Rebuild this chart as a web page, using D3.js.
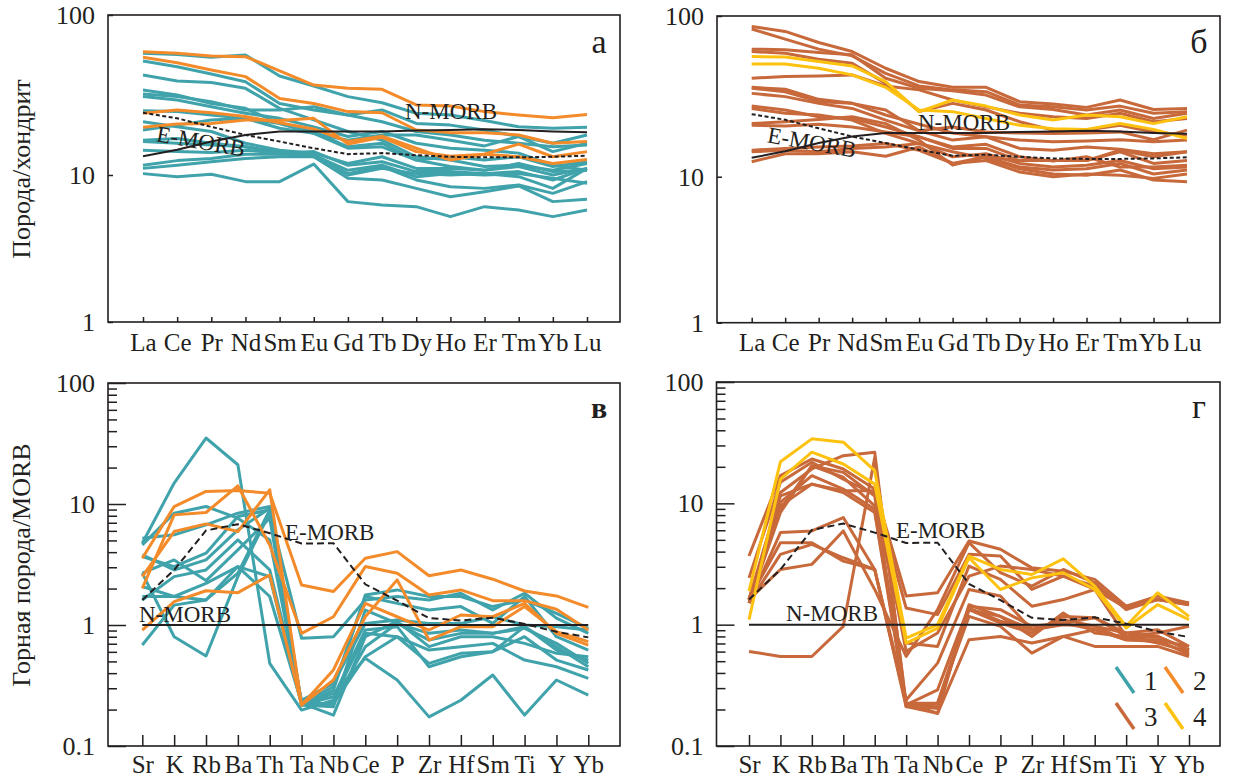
<!DOCTYPE html>
<html>
<head>
<meta charset="utf-8">
<script src="https://cdn.jsdelivr.net/npm/d3@7"></script>
<style>
body { margin: 0; background: #fff; }
svg text { font-family: 'Liberation Serif', 'Times New Roman', serif; }
</style>
</head>
<body>
<svg id="chart" width="1239" height="778"></svg>
<script>
// elements on the x axes
const reeElems = ['La', 'Ce', 'Pr', 'Nd', 'Sm', 'Eu', 'Gd', 'Tb', 'Dy', 'Ho', 'Er', 'Tm', 'Yb', 'Lu'];
const spiderElems = ['Sr', 'K', 'Rb', 'Ba', 'Th', 'Ta', 'Nb', 'Ce', 'P', 'Zr', 'Hf', 'Sm', 'Ti', 'Y', 'Yb'];

// reference curves
const reeNMorb = [13.1, 14.4, 16.2, 17.8, 18.7, 18.7, 18.7, 18.7, 19.0, 19.1, 19.3, 19.1, 18.7, 18.5];
const reeEMorb = [24.5, 22.6, 20.0, 17.8, 16.2, 14.7, 13.5, 13.7, 13.3, 13.0, 12.9, 12.9, 13.0, 13.2];
const spiderNMorb = [1, 1, 1, 1, 1, 1, 1, 1, 1, 1, 1, 1, 1, 1, 1];
const spiderEMorb = [1.61, 2.85, 6.04, 6.81, 5.74, 4.71, 4.74, 2.17, 1.59, 1.14, 1.09, 1.15, 1.02, 0.88, 0.79];

// panel а: group 1 (teal) and group 2 (orange), rock / chondrite
const reeGroup1 = [
  [57.6, 56.7, 54.4, 56.2, 41.6, 36.0, 30.9, 28.3, 24.3, 23.7, 21.9, 20.0, 19.6, 19.9],
  [51.6, 47.5, 42.8, 38.3, 28.0, 25.5, 23.7, 21.5, 18.7, 17.8, 16.5, 15.8, 15.0, 15.4],
  [42.2, 38.7, 37.8, 34.8, 26.1, 22.1, 18.7, 16.5, 13.0, 12.4, 11.3, 11.5, 10.7, 11.8],
  [34.0, 31.6, 28.0, 26.1, 21.0, 18.7, 15.0, 15.8, 12.4, 11.3, 10.7, 11.3, 10.0, 11.0],
  [32.1, 30.9, 28.7, 25.5, 25.5, 26.7, 23.7, 25.5, 21.0, 20.5, 19.1, 17.4, 15.8, 17.8],
  [30.9, 29.4, 26.7, 24.3, 22.6, 20.0, 17.4, 18.7, 15.8, 14.7, 14.3, 13.7, 11.5, 10.7],
  [25.2, 24.9, 23.7, 22.6, 19.6, 18.2, 16.5, 17.8, 17.8, 16.5, 15.2, 17.4, 14.0, 15.8],
  [21.5, 20.0, 18.7, 15.8, 14.3, 13.7, 11.8, 13.0, 11.0, 11.0, 10.7, 11.8, 10.5, 10.7],
  [19.1, 20.5, 22.1, 22.6, 21.0, 18.2, 14.7, 15.0, 12.4, 13.0, 12.4, 13.0, 11.3, 12.1],
  [16.2, 15.8, 15.4, 15.0, 13.7, 14.0, 11.5, 12.1, 10.5, 10.5, 10.2, 10.5, 9.25, 11.0],
  [11.5, 12.3, 12.7, 13.5, 13.5, 13.3, 10.7, 11.5, 9.74, 10.2, 10.0, 10.2, 9.49, 8.78],
  [10.2, 9.74, 10.1, 9.01, 9.01, 11.7, 6.59, 6.26, 6.09, 5.21, 6.09, 5.78, 5.21, 5.78],
  [14.3, 14.0, 13.8, 14.3, 13.7, 13.0, 10.2, 11.3, 9.25, 8.33, 8.11, 8.55, 7.50, 9.01],
  [11.0, 11.5, 12.1, 12.7, 13.0, 13.0, 9.49, 9.25, 8.11, 7.12, 7.70, 8.42, 6.59, 6.83],
  [16.5, 16.9, 15.8, 15.0, 14.0, 13.3, 10.0, 11.0, 10.2, 10.0, 10.2, 9.74, 8.11, 11.0]
];
const reeGroup2 = [
  [59.0, 57.6, 55.5, 54.9, 44.7, 36.5, 34.8, 34.3, 27.4, 27.0, 24.9, 23.7, 22.8, 23.9],
  [54.4, 50.3, 45.3, 41.2, 30.1, 28.0, 24.9, 24.5, 19.1, 18.4, 18.4, 17.8, 15.8, 16.2],
  [24.3, 25.5, 24.5, 23.2, 21.2, 19.4, 16.2, 17.5, 14.7, 12.4, 13.5, 15.6, 13.0, 14.0],
  [19.9, 20.8, 21.0, 22.1, 21.9, 22.6, 15.6, 17.2, 14.0, 13.1, 13.5, 13.0, 11.8, 12.5]
];

// panel б: group 3 (brown) and group 4 (yellow)
const reeGroup3 = [
  [86.1, 80.2, 68.4, 60.1, 47.3, 39.1, 36.0, 36.0, 29.3, 28.3, 27.0, 30.0, 26.2, 26.6],
  [83.0, 71.8, 62.2, 56.5, 44.0, 36.7, 34.7, 33.8, 27.9, 27.2, 26.0, 27.5, 24.8, 25.4],
  [62.2, 61.7, 59.3, 57.3, 41.0, 35.5, 34.3, 32.2, 27.2, 26.2, 24.2, 26.0, 23.0, 24.8],
  [60.1, 58.7, 53.8, 50.8, 38.1, 25.4, 28.6, 26.0, 22.0, 19.5, 19.5, 20.9, 19.0, 18.1],
  [41.0, 42.0, 42.4, 43.0, 36.7, 34.7, 30.0, 27.2, 24.8, 23.6, 23.0, 24.8, 22.0, 23.0],
  [36.0, 35.0, 30.3, 28.6, 24.2, 21.2, 18.7, 17.7, 16.9, 16.5, 16.7, 17.0, 16.5, 16.9],
  [33.0, 31.5, 28.6, 26.6, 22.5, 19.3, 16.9, 17.7, 15.0, 14.6, 15.3, 14.8, 13.9, 14.3],
  [27.5, 26.0, 23.6, 23.0, 20.4, 17.7, 15.0, 15.0, 12.6, 12.6, 12.6, 14.3, 12.1, 12.6],
  [26.6, 24.8, 24.2, 22.5, 18.6, 16.1, 13.3, 13.9, 12.1, 11.5, 11.8, 12.6, 11.2, 11.5],
  [21.4, 22.0, 22.7, 23.6, 21.4, 16.9, 11.8, 13.3, 11.5, 11.0, 11.2, 12.1, 10.4, 11.0],
  [14.3, 14.6, 14.3, 15.0, 15.3, 16.1, 14.3, 13.0, 11.2, 10.4, 10.2, 11.0, 9.5, 9.24],
  [12.4, 13.9, 13.9, 14.3, 13.4, 15.3, 12.1, 12.6, 10.7, 10.0, 10.4, 10.2, 9.74, 10.4],
  [20.9, 20.7, 21.2, 20.4, 19.0, 17.7, 15.3, 15.9, 13.3, 12.5, 13.3, 11.5, 11.5, 11.8],
  [35.5, 33.8, 29.3, 28.6, 26.0, 19.3, 20.4, 19.0, 18.7, 18.6, 18.7, 19.0, 17.0, 19.5],
  [14.6, 15.0, 15.3, 15.5, 16.1, 14.6, 12.1, 13.3, 12.6, 12.6, 12.6, 14.6, 13.3, 14.3]
];
const reeGroup4 = [
  [55.9, 55.5, 52.1, 48.9, 39.1, 25.4, 30.0, 27.5, 24.2, 22.5, 24.2, 23.6, 21.4, 23.6],
  [50.3, 50.3, 47.3, 43.0, 36.0, 26.0, 25.4, 23.0, 20.9, 19.9, 19.7, 21.4, 19.7, 17.3]
];

// panel в: rock / MORB, groups 1 and 2
const spiderGroup1 = [
  [4.74, 14.9, 35.1, 21.1, 0.482, 0.198, 0.239, 0.853, 0.800, 0.621, 0.662, 0.705, 0.513, 0.452, 0.362],
  [5.21, 5.56, 6.73, 8.40, 9.53, 0.218, 0.290, 1.77, 1.95, 1.72, 1.72, 1.42, 1.61, 1.25, 0.938],
  [4.59, 8.40, 9.53, 7.63, 5.05, 0.225, 0.180, 0.800, 1.07, 0.662, 0.800, 0.800, 0.705, 0.583, 0.547],
  [3.80, 2.85, 3.45, 6.11, 9.24, 0.218, 0.255, 0.909, 0.969, 0.452, 0.547, 0.602, 0.969, 0.621, 0.513],
  [2.68, 3.45, 2.33, 4.18, 7.63, 0.218, 0.211, 1.33, 1.03, 0.853, 0.909, 0.853, 0.938, 0.705, 0.482],
  [0.683, 1.46, 1.61, 2.68, 8.95, 0.218, 0.225, 0.547, 0.800, 0.482, 0.583, 0.602, 0.800, 0.513, 0.425],
  [2.68, 0.800, 0.554, 2.51, 8.40, 0.776, 0.800, 1.61, 1.72, 1.61, 1.83, 1.33, 1.83, 1.14, 0.853],
  [1.72, 1.72, 1.61, 3.04, 2.51, 0.218, 0.272, 0.530, 0.351, 0.174, 0.239, 0.386, 0.180, 0.351, 0.263],
  [3.68, 3.04, 3.92, 7.88, 8.95, 0.225, 0.309, 1.72, 1.51, 1.33, 1.42, 1.03, 1.72, 0.800, 0.621],
  [2.08, 1.72, 2.21, 3.04, 1.72, 0.225, 0.225, 0.662, 1.03, 0.751, 0.853, 0.853, 0.969, 0.662, 0.452],
  [1.61, 2.51, 2.85, 5.05, 2.85, 0.239, 0.329, 1.03, 1.10, 1.03, 1.03, 1.17, 1.0, 0.969, 0.909]
];
const spiderGroup2 = [
  [3.56, 9.53, 12.7, 12.9, 12.3, 2.14, 1.89, 3.56, 4.04, 2.55, 2.85, 2.39, 1.91, 1.74, 1.40],
  [2.01, 8.13, 8.51, 14.1, 4.59, 0.853, 1.17, 3.04, 2.68, 1.77, 1.95, 1.59, 1.59, 1.35, 0.909],
  [2.51, 5.92, 6.85, 5.92, 13.1, 0.218, 0.425, 1.51, 1.17, 0.909, 1.21, 1.17, 1.51, 0.853, 0.683],
  [0.909, 1.56, 1.92, 1.85, 2.59, 0.218, 0.351, 1.17, 2.36, 0.751, 0.969, 0.969, 1.42, 0.881, 0.728]
];

// panel г: groups 3 and 4
const spiderGroup3 = [
  [3.68, 16.9, 23.2, 19.2, 13.1, 1.72, 1.83, 4.89, 4.18, 2.94, 2.76, 2.36, 1.42, 1.72, 1.51],
  [2.43, 14.9, 21.8, 15.8, 11.9, 1.37, 1.21, 3.80, 3.68, 1.95, 2.51, 1.95, 1.37, 1.61, 1.46],
  [1.61, 12.3, 19.2, 24.7, 26.4, 0.211, 0.186, 1.46, 1.17, 0.800, 1.25, 0.853, 0.800, 0.705, 0.602],
  [1.51, 9.53, 14.4, 12.3, 8.40, 0.218, 0.290, 1.42, 1.33, 0.969, 1.03, 1.14, 0.853, 0.800, 0.621],
  [1.51, 5.74, 5.92, 7.63, 2.85, 0.211, 0.225, 1.17, 0.969, 0.583, 0.800, 0.909, 0.751, 0.751, 0.565],
  [1.61, 4.74, 4.74, 3.34, 2.85, 0.239, 0.482, 1.95, 1.72, 0.909, 1.0, 0.969, 0.853, 0.909, 0.662],
  [0.602, 0.547, 0.547, 0.969, 23.9, 0.225, 0.186, 0.751, 0.800, 0.705, 0.800, 0.662, 0.662, 0.662, 0.547],
  [1.61, 2.85, 3.14, 5.92, 1.95, 0.547, 1.33, 4.74, 2.68, 2.08, 2.85, 2.21, 1.33, 1.61, 1.46],
  [1.51, 3.80, 4.59, 3.56, 2.85, 0.218, 0.211, 1.33, 1.03, 0.853, 1.17, 1.14, 0.800, 0.800, 0.621],
  [1.61, 10.2, 16.9, 13.1, 8.95, 0.225, 0.225, 1.37, 1.07, 0.909, 1.10, 0.969, 0.751, 0.728, 0.583],
  [1.61, 8.95, 20.4, 16.4, 9.53, 0.705, 0.662, 3.04, 2.36, 1.42, 1.61, 1.95, 0.800, 0.853, 0.969],
  [1.61, 11.5, 14.4, 12.7, 12.7, 0.602, 0.853, 2.51, 3.04, 2.85, 2.51, 2.08, 1.42, 1.61, 1.51],
  [1.51, 8.40, 20.4, 18.0, 11.5, 0.218, 0.204, 1.33, 1.17, 0.909, 1.03, 0.909, 0.751, 0.751, 0.662]
];
const spiderGroup4 = [
  [1.89, 22.0, 34.0, 31.9, 18.6, 0.776, 1.0, 3.68, 2.85, 2.59, 3.49, 2.08, 0.969, 1.83, 1.17],
  [1.10, 15.8, 26.4, 21.1, 14.4, 0.705, 0.938, 3.56, 1.95, 2.43, 2.68, 1.95, 0.938, 1.46, 1.10]
];

const groupColors = {1: '#40a3ab', 2: '#f38b2a', 3: '#c8693b', 4: '#fdc210'};
const legendKeys = ['1', '2', '3', '4'];
const ink = '#231f20';

const svg = d3.select('#chart');

const panels = [
  {letter: 'а', bold: false, elems: reeElems, left: 108, right: 620, top: 15, bottom: 322,
   x0: 143, x1: 587, yDomain: [1, 10, 100], yRange: [322, 175, 15], majors: [1, 10, 100], minor: false,
   groups: [[reeGroup1, 1], [reeGroup2, 2]], nMorb: reeNMorb, eMorb: reeEMorb, dash: '4,2.5',
   xTick: 5, labelPad: 11, title: 'Порода/хондрит', titleY: 169,
   nLabel: [405, 119, 0], eLabel: [201, 141, 10], letterPos: [599, 53]},
  {letter: 'б', bold: false, elems: reeElems, left: 717, right: 1220, top: 16, bottom: 322.7,
   x0: 751.7, x1: 1187, yDomain: [1, 10, 100], yRange: [322.7, 176.7, 16], majors: [1, 10, 100], minor: false,
   groups: [[reeGroup3, 3], [reeGroup4, 4]], nMorb: reeNMorb, eMorb: reeEMorb, dash: '4,2.5',
   xTick: 5, labelPad: 11, title: null,
   nLabel: [918, 130, 0], eLabel: [812, 142, 10], letterPos: [1199, 53]},
  {letter: 'в', bold: true, elems: spiderElems, left: 108, right: 620, top: 383, bottom: 746,
   x0: 142.3, x1: 588.3, yDomain: [0.1, 100], yRange: [746, 383], majors: [0.1, 1, 10, 100], minor: true,
   groups: [[spiderGroup1, 1], [spiderGroup2, 2]], nMorb: spiderNMorb, eMorb: spiderEMorb, dash: '7,4',
   xTick: 11, labelPad: 9, title: 'Горная порода/MORB', titleY: 565,
   nLabel: [139, 622, 0], eLabel: [285, 540, 0], letterPos: [599, 418]},
  {letter: 'г', bold: false, elems: spiderElems, left: 716.5, right: 1220, top: 382, bottom: 746,
   x0: 749, x1: 1189, yDomain: [0.1, 100], yRange: [746, 382], majors: [0.1, 1, 10, 100], minor: true,
   groups: [[spiderGroup3, 3], [spiderGroup4, 4]], nMorb: spiderNMorb, eMorb: spiderEMorb, dash: '7,4',
   xTick: 11, labelPad: 9, title: null,
   nLabel: [786, 621, 0], eLabel: [896, 538, 0], letterPos: [1199, 418], legend: true}
];

panels.forEach(p => {
  const x = d3.scalePoint().domain(p.elems).range([p.x0, p.x1]);
  const y = d3.scaleLog().domain(p.yDomain).range(p.yRange);
  const g = svg.append('g');

  const line = d3.line()
  .x((d, i) => x(p.elems[i]))
  .y(d => y(d));

  // sample lines, one group after another
  p.groups.forEach(([rows, key]) => {
    g.append('g').selectAll('path')
    .data(rows)
    .enter()
    .append('path')
    .attr('d', line)
    .attr('fill', 'none')
    .attr('stroke', groupColors[key])
    .attr('stroke-width', 3)
    .attr('stroke-linejoin', 'round');
  });

  // MORB references
  g.append('path')
  .datum(p.nMorb)
  .attr('d', line)
  .attr('fill', 'none')
  .attr('stroke', ink)
  .attr('stroke-width', 2);

  g.append('path')
  .datum(p.eMorb)
  .attr('d', line)
  .attr('fill', 'none')
  .attr('stroke', ink)
  .attr('stroke-width', 2)
  .attr('stroke-dasharray', p.dash);

  g.append('text')
  .attr('x', p.nLabel[0]).attr('y', p.nLabel[1])
  .style('font-size', '23px').attr('fill', ink)
  .text('N-MORB');

  if (p.eLabel[2]) {
    g.append('text')
    .attr('transform', `translate(${p.eLabel[0]},${p.eLabel[1]}) rotate(${p.eLabel[2]})`)
    .attr('text-anchor', 'middle')
    .attr('dy', '0.35em')
    .style('font-size', '23px').attr('fill', ink)
    .text('E-MORB');
  } else {
    g.append('text')
    .attr('x', p.eLabel[0]).attr('y', p.eLabel[1])
    .style('font-size', '23px').attr('fill', ink)
    .text('E-MORB');
  }

  // x axis: ticks pointing inward, labels below
  const xAxis = g.append('g')
  .attr('transform', `translate(0,${p.bottom})`)
  .call(d3.axisBottom(x).tickSize(-p.xTick).tickPadding(p.labelPad));
  xAxis.select('.domain').remove();
  xAxis.attr('color', ink).attr('font-size', 25).attr('font-family', 'Liberation Serif, serif');
  xAxis.selectAll('line').attr('stroke-width', 1.5);

  // y axis: minor ticks (bottom panels), then major ticks with labels
  if (p.minor) {
    const minorAxis = g.append('g')
    .attr('transform', `translate(${p.left},0)`)
    .call(d3.axisLeft(y).tickValues(y.ticks().filter(v => !p.majors.includes(v))).tickSize(-9).tickFormat(''));
    minorAxis.select('.domain').remove();
    minorAxis.attr('color', ink);
    minorAxis.selectAll('line').attr('stroke-width', 1.5);
  }
  const yAxis = g.append('g')
  .attr('transform', `translate(${p.left},0)`)
  .call(d3.axisLeft(y).tickValues(p.majors).tickSize(p.minor ? -18 : -5).tickPadding(13).tickFormat(d => String(d)));
  yAxis.select('.domain').remove();
  yAxis.attr('color', ink).attr('font-size', 26).attr('font-family', 'Liberation Serif, serif');
  yAxis.selectAll('line').attr('stroke-width', 1.5);

  // frame
  g.append('rect')
  .attr('x', p.left).attr('y', p.top)
  .attr('width', p.right - p.left).attr('height', p.bottom - p.top)
  .attr('fill', 'none')
  .attr('stroke', ink)
  .attr('stroke-width', 1.6);

  // panel letter
  g.append('text')
  .attr('x', p.letterPos[0]).attr('y', p.letterPos[1])
  .attr('text-anchor', 'middle')
  .style('font-size', p.bold ? '30px' : '34px')
  .style('font-weight', p.bold ? 'bold' : 'normal')
  .attr('fill', ink)
  .text(p.letter);

  if (p.title) {
    svg.append('text')
    .attr('transform', `translate(30,${p.titleY}) rotate(-90)`)
    .attr('text-anchor', 'middle')
    .style('font-size', '26px')
    .attr('fill', ink)
    .text(p.title);
  }

  // legend for the four groups
  if (p.legend) {
    const lg = g.append('g').selectAll('g')
    .data(legendKeys)
    .enter()
    .append('g')
    .attr('transform', (d, i) => `translate(${1116 + (i % 2) * 49},${667 + Math.floor(i / 2) * 36})`);
    lg.append('line')
    .attr('x1', 0).attr('y1', 0).attr('x2', 18).attr('y2', 26)
    .attr('stroke', d => groupColors[d])
    .attr('stroke-width', 3.5);
    lg.append('text')
    .attr('x', 28).attr('y', 23)
    .style('font-size', '27px')
    .attr('fill', ink)
    .text(d => d);
  }
});
</script>
</body>
</html>
